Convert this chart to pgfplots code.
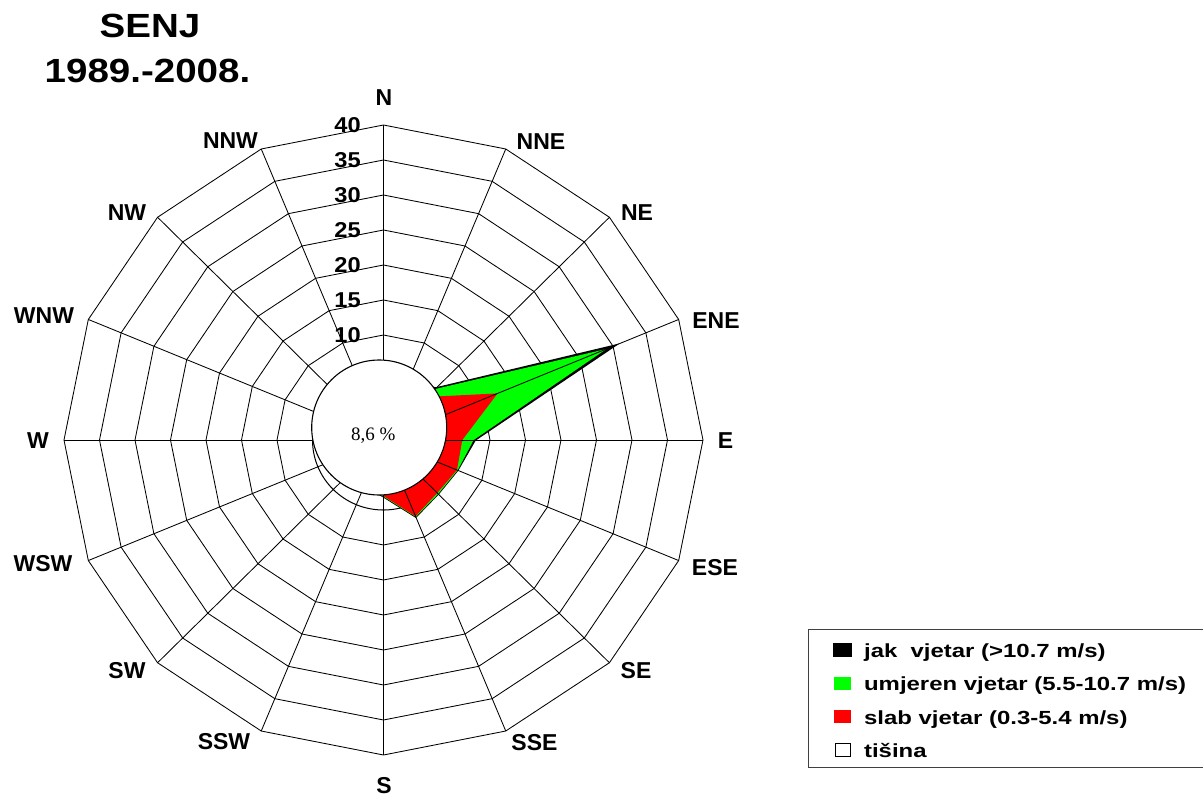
\documentclass[border=0pt]{standalone}
\usepackage{fontspec}
\setmainfont{Liberation Sans}
\newfontfamily\legfont[FakeStretch=1.26]{Liberation Sans}
\newfontfamily\titlefont[FakeStretch=1.15]{Liberation Sans}
\newfontfamily\tickfont[FakeStretch=1.1]{Liberation Sans}
\newfontfamily\seriffont{Liberation Serif}
\usepackage{pgfplots}
\usepackage{pgfplotstable}
\pgfplotsset{compat=1.18}

% wind rose data (percent), angle = math angle of direction
\pgfplotstableread{
dir angle slab umj jak
N    90     2.5  0.2 0.1
NNE  67.5   3.0  0.5 0.2
NE   45     3.7  1.6 0.2
ENE  22.5  12.4 16.6 1.4
E    0      6.1  1.6 0.2
ESE -22.5   6.2  0.1 0.0
SE  -45     5.7  0.2 0.0
SSE -67.5   6.8  0.1 0.0
S   -90     3.0  0.1 0.0
SSW -112.5  2.0  0.1 0.0
SW  -135    1.8  0.1 0.0
WSW -157.5  1.5  0.1 0.0
W   -180    1.5  0.1 0.0
WNW -202.5  1.3  0.1 0.0
NW  -225    1.5  0.1 0.0
NNW -247.5  1.8  0.1 0.0
N   -270    2.5  0.2 0.1
}\wind

\begin{document}
\begin{tikzpicture}[x=1pt,y=1pt]
\path[use as bounding box] (-383.5,-356) rectangle (819.5,440);
% rings
\begin{scope}[xscale=7.1,yscale=7]
\foreach \r in {10,15,20,25,30,35,40,45}{
  \draw[line width=0.85pt] (90:\r) \foreach \a in {67.5,45,22.5,0,-22.5,-45,-67.5,-90,-112.5,-135,-157.5,-180,-202.5,-225,-247.5}{ -- (\a:\r) } -- cycle;
}
\draw[line width=1pt, fill=white] (0,0) circle[radius=10];
\end{scope}

\begin{axis}[at={(0pt,0pt)}, anchor=center, hide axis,
  x=7.1pt, y=7pt, xmin=-48, xmax=48, ymin=-48, ymax=48, clip=false,
  legend cell align=left,
  legend style={draw=none, fill=none,
    at={(axis description cs:1.1599,0.2128)}, anchor=north west,
    inner sep=0pt, row sep=0pt,
    font=\legfont\bfseries\fontsize{19}{24}\selectfont,
    nodes={inner sep=0pt},
    /tikz/every odd column/.append style={column sep=12pt}},
]
\addplot[fill=black, draw=black, line width=1.6pt, line join=miter,
  legend image code/.code={\path[draw=none,fill=none] (0pt,-16.65pt) rectangle (17pt,16.65pt);\fill[black] (0pt,-6.5pt) rectangle (17pt,6.5pt);}]
  table[x expr={(\thisrow{slab}+\thisrow{umj}+\thisrow{jak}+5)*cos(\thisrow{angle})},
        y expr={(\thisrow{slab}+\thisrow{umj}+\thisrow{jak}+5)*sin(\thisrow{angle})}] {\wind};
\addlegendentry{\strut jak\ \ vjetar (>10.7 m/s)}
\addplot[fill=green, draw=none,
  legend image code/.code={\path[draw=none,fill=none] (0pt,-16.65pt) rectangle (17pt,16.65pt);\fill[green] (0pt,-6.5pt) rectangle (17pt,6.5pt);}]
  table[x expr={(\thisrow{slab}+\thisrow{umj}+5)*cos(\thisrow{angle})},
        y expr={(\thisrow{slab}+\thisrow{umj}+5)*sin(\thisrow{angle})}] {\wind};
\addlegendentry{\strut umjeren vjetar (5.5-10.7 m/s)}
\addplot[fill=red, draw=none,
  legend image code/.code={\path[draw=none,fill=none] (0pt,-16.65pt) rectangle (17pt,16.65pt);\fill[red] (0pt,-6.5pt) rectangle (17pt,6.5pt);}]
  table[x expr={(\thisrow{slab}+5)*cos(\thisrow{angle})},
        y expr={(\thisrow{slab}+5)*sin(\thisrow{angle})}] {\wind};
\addlegendentry{\strut slab vjetar (0.3-5.4 m/s)}
\addlegendimage{legend image code/.code={\path[draw=none,fill=none] (0pt,-16.65pt) rectangle (17pt,16.65pt);\draw[line width=1.1pt, draw=black, fill=white] (1pt,-6.5pt) rectangle (16pt,6.5pt);}}
\addlegendentry{\strut tišina}
\end{axis}

% spokes
\begin{scope}[xscale=7.1,yscale=7]
\foreach \a in {90,67.5,45,22.5,0,-22.5,-45,-67.5,-90,-112.5,-135,-157.5,-180,-202.5,-225,-247.5}{
  \draw[line width=0.85pt] (0,0) -- (\a:45);
}
\end{scope}
% calm circle
\draw[line width=1.1pt, fill=white] (-4.3,12.5) circle[radius=67.5];
\node[anchor=base, inner sep=0pt, font=\seriffont\fontsize{19}{19}\selectfont] at (-10.2,0) {8,6 \%};

% radial tick labels
\foreach \v in {10,15,20,25,30,35,40}{
  \node[anchor=east, inner sep=0pt, font=\tickfont\bfseries\fontsize{21.5}{21.5}\selectfont] at (-22.5,{(\v+5)*7}) {\v};
}

% direction labels
\begin{scope}[every node/.style={inner sep=0pt, font=\bfseries\fontsize{23}{23}\selectfont}]
\node at (0.5,342) {N};
\node at (157.5,298.5) {NNE};
\node at (253.5,227.5) {NE};
\node at (332.5,119.5) {ENE};
\node at (342,-1) {E};
\node at (331.5,-128) {ESE};
\node at (252.5,-231) {SE};
\node at (151,-302.5) {SSE};
\node at (0.5,-345.5) {S};
\node at (-159.5,-301.5) {SSW};
\node at (-256.5,-231) {SW};
\node at (-340.5,-123.5) {WSW};
\node at (-345.5,-1) {W};
\node at (-339.5,124) {WNW};
\node at (-256.5,227.5) {NW};
\node at (-153,299.2) {NNW};
\end{scope}

% title
\node[anchor=base, inner sep=0pt, font=\titlefont\bfseries\fontsize{33.5}{33.5}\selectfont] at (-233.5,402) {SENJ};
\node[anchor=base, inner sep=0pt, font=\titlefont\bfseries\fontsize{33.5}{33.5}\selectfont] at (-236,357) {1989.-2008.};

% legend frame
\draw[line width=1pt, black!75] (424.5,-189) rectangle (835,-327);
\end{tikzpicture}
\end{document}
